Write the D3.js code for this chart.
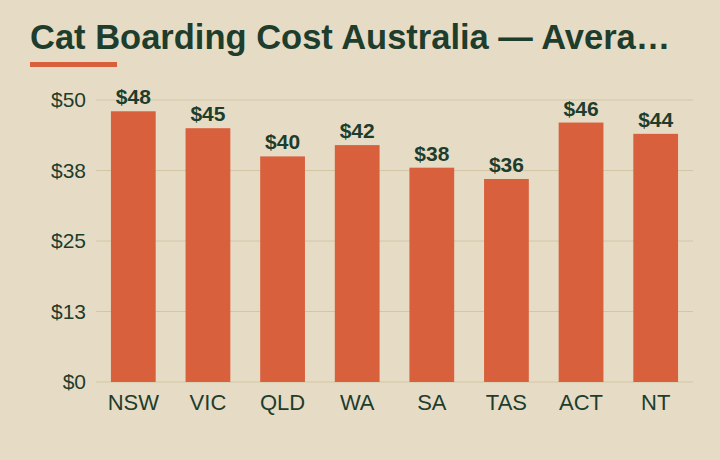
<!DOCTYPE html>
<html>
<head>
<meta charset="utf-8">
<script src="https://cdn.jsdelivr.net/npm/d3@7"></script>
<style>
  html, body { margin: 0; padding: 0; background: #e6dcc5; }
  svg { display: block; }
</style>
</head>
<body>
<svg id="chart" width="720" height="460"></svg>
<script>
// Average nightly cost per state.
const states = ['NSW', 'VIC', 'QLD', 'WA', 'SA', 'TAS', 'ACT', 'NT'];
const costs = [48, 45, 40, 42, 38, 36, 46, 44];
const tickValues = [0, 12.5, 25, 37.5, 50];

const colors = {
  bg: '#e6dcc5',
  bar: '#d9603c',
  text: '#1e3d2d',
  grid: '#d3c5a6'
};

const svg = d3.select('#chart');

svg.append('rect')
  .attr('width', 720)
  .attr('height', 460)
  .attr('fill', colors.bg);

// Title + accent rule.
svg.append('text')
  .attr('x', 30)
  .attr('y', 49)
  .attr('fill', colors.text)
  .attr('font-family', '"Liberation Sans Narrow", "Liberation Sans", sans-serif')
  .attr('font-weight', 'bold')
  .attr('font-size', 34.5)
  .text('Cat Boarding Cost Australia — Avera…');

svg.append('rect')
  .attr('x', 30)
  .attr('y', 62)
  .attr('width', 87)
  .attr('height', 5)
  .attr('fill', colors.bar);

const x = d3.scaleBand()
  .domain(states)
  .range([96, 693])
  .paddingInner(0.4)
  .paddingOuter(0.2);

const y = d3.scaleLinear()
  .domain([0, 50])
  .range([382, 100]);

// Gridlines.
svg.append('g')
  .selectAll('line')
  .data(tickValues)
  .join('line')
  .attr('x1', 96)
  .attr('x2', 693)
  .attr('y1', d => y(d))
  .attr('y2', d => y(d))
  .attr('stroke', colors.grid)
  .attr('stroke-width', 1);

// Y axis labels.
const yAxis = svg.append('g')
  .attr('transform', 'translate(96,0)')
  .call(d3.axisLeft(y).tickValues(tickValues).tickSize(0).tickPadding(10)
    .tickFormat(d => '$' + Math.round(d)));
yAxis.select('.domain').remove();
yAxis.selectAll('text')
  .attr('fill', colors.text)
  .attr('font-family', '"Liberation Sans", Arial, sans-serif')
  .attr('font-size', 21);

// Bars.
svg.append('g')
  .selectAll('rect')
  .data(costs)
  .join('rect')
  .attr('x', (d, i) => x(states[i]))
  .attr('y', d => y(d))
  .attr('width', x.bandwidth())
  .attr('height', d => y(0) - y(d))
  .attr('fill', colors.bar);

// Value labels.
svg.append('g')
  .selectAll('text')
  .data(costs)
  .join('text')
  .attr('x', (d, i) => x(states[i]) + x.bandwidth() / 2)
  .attr('y', d => y(d) - 7)
  .attr('text-anchor', 'middle')
  .attr('fill', colors.text)
  .attr('font-family', '"Liberation Sans", Arial, sans-serif')
  .attr('font-weight', 'bold')
  .attr('font-size', 21)
  .text(d => '$' + d);

// X axis labels.
const xAxis = svg.append('g')
  .attr('transform', 'translate(0,382)')
  .call(d3.axisBottom(x).tickSize(0).tickPadding(12));
xAxis.select('.domain').remove();
xAxis.selectAll('text')
  .attr('fill', colors.text)
  .attr('font-family', '"Liberation Sans", Arial, sans-serif')
  .attr('font-size', 22);
</script>
</body>
</html>
